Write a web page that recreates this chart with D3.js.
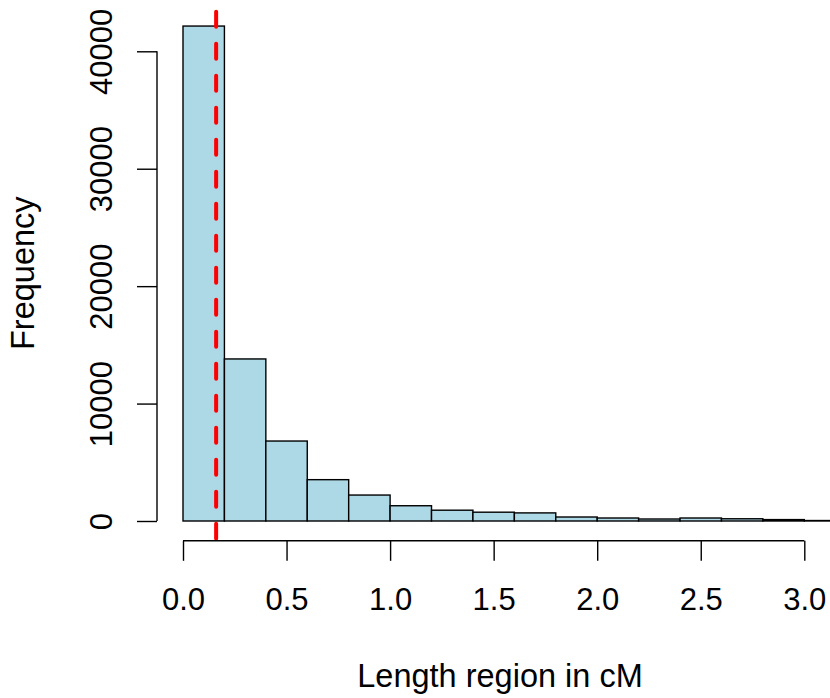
<!DOCTYPE html>
<html>
<head>
<meta charset="utf-8">
<script src="https://cdn.jsdelivr.net/npm/d3@7"></script>
<style>
  html, body { margin: 0; padding: 0; background: #fff; }
  svg { display: block; font-family: 'Liberation Sans', Arial, Helvetica, sans-serif; }
</style>
</head>
<body>
<div id="chart"></div>
<script>
// histogram bins (cM) and counts
const breaks = [0, 0.2, 0.4, 0.6, 0.8, 1.0, 1.2, 1.4, 1.6, 1.8, 2.0, 2.2, 2.4, 2.6, 2.8, 3.0, 3.2];
const counts = [42150, 13800, 6810, 3520, 2210, 1300, 920, 750, 690, 340, 255, 170, 255, 190, 120, 40];
const xTicks = [0, 0.5, 1.0, 1.5, 2.0, 2.5, 3.0];
const yTicks = [0, 10000, 20000, 30000, 40000];
const cutoff = 0.16;

const width = 830;
const height = 698;
const fontSize = 31;
const titleSize = 32.5;

const svg = d3.select('#chart').append('svg').attr('width', width).attr('height', height);

const x = d3.scaleLinear().domain([0, 3]).range([183, 804.3]);
const y = d3.scaleLinear().domain([0, 40000]).range([521, 51.3]);

// plot region in R extends 4% beyond the data
const plotBottom = y(-1688);
const plotTop = y(43888);
const plotLeft = 157;

const bins = counts.map((c, i) => ({ x0: breaks[i], x1: breaks[i + 1], count: c }));

svg
  .append('g')
  .selectAll('rect')
  .data(bins)
  .enter()
  .append('rect')
  .attr('x', (d) => x(d.x0))
  .attr('y', (d) => y(d.count))
  .attr('width', (d) => x(d.x1) - x(d.x0))
  .attr('height', (d) => y(0) - y(d.count))
  .attr('fill', '#add8e6')
  .attr('stroke', '#000')
  .attr('stroke-width', 1.4);

// cutoff line, dashes start from the bottom like abline
svg
  .append('line')
  .attr('x1', x(cutoff))
  .attr('x2', x(cutoff))
  .attr('y1', plotBottom - 2)
  .attr('y2', plotTop)
  .attr('stroke', '#ff0000')
  .attr('stroke-width', 4)
  .attr('stroke-linecap', 'round')
  .attr('stroke-dasharray', '15,17');

// x axis
const gx = svg.append('g').attr('transform', `translate(0, ${plotBottom})`);
gx.call(d3.axisBottom(x).tickValues(xTicks).tickSize(20).tickFormat(d3.format('.1f')));
gx.select('.domain').remove();
gx.append('line')
  .attr('x1', x(xTicks[0]))
  .attr('x2', x(xTicks[xTicks.length - 1]))
  .attr('stroke', '#000')
  .attr('stroke-width', 1.4);
gx.selectAll('.tick line').attr('stroke', '#000').attr('stroke-width', 1.4);
gx.selectAll('.tick text')
  .attr('y', 69)
  .attr('dy', 0)
  .attr('fill', '#000')
  .style('font-size', fontSize + 'px')
  .style('font-family', "'Liberation Sans', Arial, sans-serif");

// y axis
const gy = svg.append('g').attr('transform', `translate(${plotLeft}, 0)`);
gy.call(d3.axisLeft(y).tickValues(yTicks).tickSize(20).tickFormat(d3.format('d')));
gy.select('.domain').remove();
gy.append('line')
  .attr('y1', y(yTicks[0]))
  .attr('y2', y(yTicks[yTicks.length - 1]))
  .attr('stroke', '#000')
  .attr('stroke-width', 1.4);
gy.selectAll('.tick line').attr('stroke', '#000').attr('stroke-width', 1.4);
gy.selectAll('.tick text')
  .attr('transform', 'rotate(-90)')
  .attr('x', 0)
  .attr('y', -45)
  .attr('dy', 0)
  .attr('text-anchor', 'middle')
  .attr('fill', '#000')
  .style('font-size', fontSize + 'px')
  .style('font-family', "'Liberation Sans', Arial, sans-serif");

// axis titles
svg
  .append('text')
  .attr('x', 500)
  .attr('y', 687)
  .attr('text-anchor', 'middle')
  .style('font-size', titleSize + 'px')
  .text('Length region in cM');

svg
  .append('text')
  .attr('transform', `translate(34, ${(plotTop + plotBottom) / 2}) rotate(-90)`)
  .attr('text-anchor', 'middle')
  .style('font-size', titleSize + 'px')
  .text('Frequency');
</script>
</body>
</html>
